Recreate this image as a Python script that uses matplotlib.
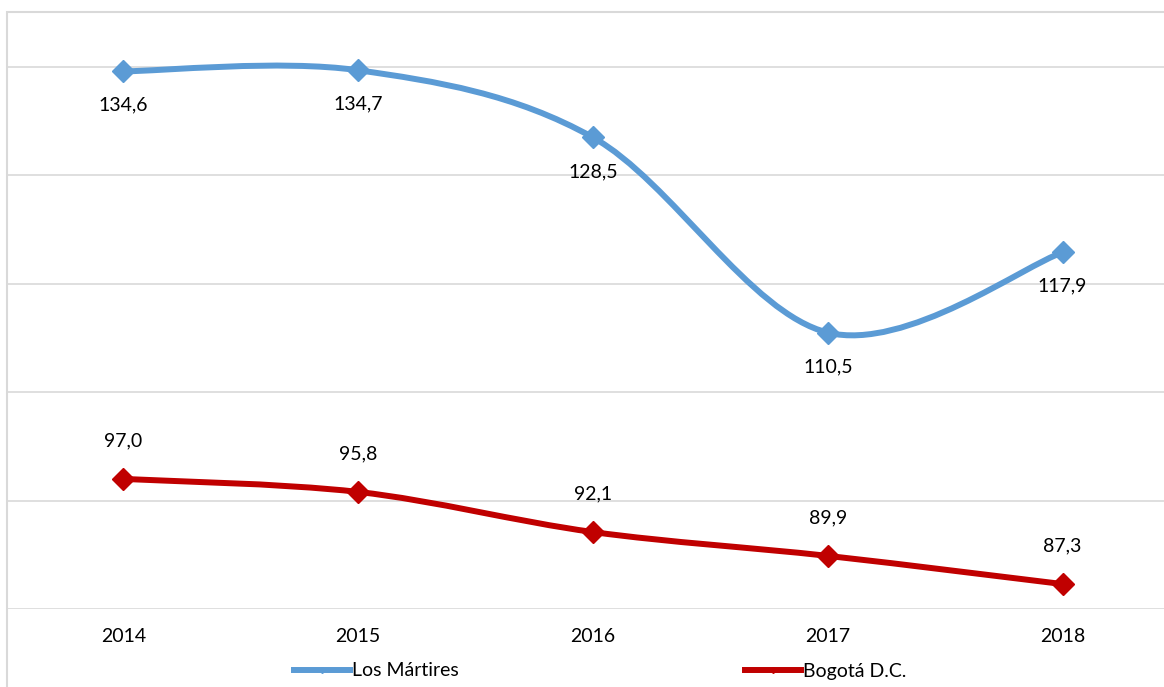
import numpy as np
import matplotlib.pyplot as plt
from matplotlib.path import Path
from matplotlib.patches import PathPatch, Rectangle
from matplotlib.lines import Line2D

plt.rcParams['font.family'] = ['Lato', 'DejaVu Sans']

# data
years = ['2014', '2015', '2016', '2017', '2018']
martires = [134.6, 134.7, 128.5, 110.5, 117.9]
bogota = [97.0, 95.8, 92.1, 89.9, 87.3]

blue = '#5B9BD5'
red = '#C00000'
grid_col = '#D9D9D9'


def smooth_path(xs, ys):
    ''' excel-like smoothed line: catmull-rom segments as cubic beziers '''
    pts = np.column_stack([xs, ys]).astype(float)
    n = len(pts)
    verts = [pts[0]]
    codes = [Path.MOVETO]
    for i in range(n - 1):
        p0 = pts[i - 1] if i > 0 else pts[i]
        p1 = pts[i]
        p2 = pts[i + 1]
        p3 = pts[i + 2] if i + 2 < n else pts[i + 1]
        c1 = p1 + (p2 - p0) / 6.0
        c2 = p2 - (p3 - p1) / 6.0
        verts += [c1, c2, p2]
        codes += [Path.CURVE4] * 3
    return Path(verts, codes)


W, H = 1164, 687
fig = plt.figure(figsize=(W / 100, H / 100), dpi=100)
ax = fig.add_axes([6 / W, (H - 609) / H, 1174 / W, (609 - 12) / H])

x = np.arange(len(years))
ax.set_xlim(-0.5, len(years) - 0.5)
ax.set_ylim(85, 85 + 597 / 10.84)

ax.set_yticks([85, 95, 105, 115, 125, 135])
ax.set_yticklabels([])
ax.tick_params(axis='y', length=0)
ax.grid(axis='y', color=grid_col, linewidth=1.2)
ax.set_axisbelow(True)
for s in ax.spines.values():
    s.set_visible(False)

ax.set_xticks(x)
ax.set_xticklabels(years, fontsize=14)
ax.tick_params(axis='x', length=0, pad=14)

# lines
for vals, col in [(martires, blue), (bogota, red)]:
    ax.add_patch(PathPatch(smooth_path(x, vals), facecolor='none', edgecolor=col,
                           linewidth=4.3, capstyle='round', joinstyle='round'))
    ax.plot(x, vals, linestyle='none', marker='D', markersize=11, color=col)

# data labels
for xi, v in zip(x, martires):
    ax.annotate(f'{v:.1f}'.replace('.', ','), (xi, v), xytext=(0, -34),
                textcoords='offset pixels', ha='center', va='center', fontsize=14)
for xi, v in zip(x, bogota):
    ax.annotate(f'{v:.1f}'.replace('.', ','), (xi, v), xytext=(0, 38),
                textcoords='offset pixels', ha='center', va='center', fontsize=14)

# chart border
fig.patches.append(Rectangle((7 / W, -0.5), 2, (H - 12) / H + 0.5, transform=fig.transFigure,
                             facecolor='none', edgecolor=grid_col, linewidth=1.5))

# legend
handles = [Line2D([], [], color=blue, linewidth=4.3, marker='D', markersize=3),
           Line2D([], [], color=red, linewidth=4.3, marker='D', markersize=3)]
fig.legend(handles, ['Los Mártires', 'Bogotá D.C.'], loc='center',
           bbox_to_anchor=(600 / W, (H - 671) / H), ncol=2, frameon=False,
           fontsize=14, handlelength=2.9, handletextpad=0.1, columnspacing=14.7)

fig.savefig('out.png', dpi=100)
